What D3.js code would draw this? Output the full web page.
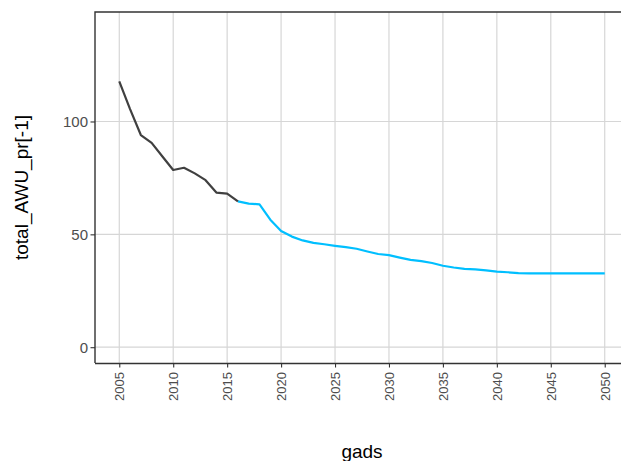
<!DOCTYPE html>
<html>
<head>
<meta charset="utf-8">
<script src="https://cdn.jsdelivr.net/npm/d3@7"></script>
<style>
  html, body { margin: 0; padding: 0; background: #fff; }
  svg { display: block; font-family: "Liberation Sans", Arial, sans-serif; }
</style>
</head>
<body>
<svg id="chart" width="621" height="461"></svg>
<script>
// Historical series (dark) and projected series (blue), yearly values
const histYears = [2005, 2006, 2007, 2008, 2009, 2010, 2011, 2012, 2013, 2014, 2015, 2016];
const histValues = [117.8, 105.5, 94, 90.5, 84.5, 78.5, 79.5, 77, 74, 68.5, 68, 64.6];

const projYears = [2016, 2017, 2018, 2019, 2020, 2021, 2022, 2023, 2024, 2025, 2026, 2027,
  2028, 2029, 2030, 2031, 2032, 2033, 2034, 2035, 2036, 2037, 2038, 2039, 2040, 2041, 2042,
  2043, 2044, 2045, 2046, 2047, 2048, 2049, 2050];
const projValues = [64.6, 63.6, 63.3, 56.5, 51.5, 49, 47.3, 46.2, 45.6, 44.9, 44.3, 43.6,
  42.4, 41.3, 40.8, 39.7, 38.7, 38.1, 37.3, 36.1, 35.3, 34.7, 34.5, 34.0, 33.5, 33.2, 32.8,
  32.7, 32.7, 32.7, 32.7, 32.7, 32.7, 32.7, 32.7];

const xTicks = [2005, 2010, 2015, 2020, 2025, 2030, 2035, 2040, 2045, 2050];
const yTicks = [0, 50, 100];

const xTitle = "gads";
const yTitle = "total_AWU_pr[-1]";

const svg = d3.select("#chart");
const panel = { left: 95, top: 12, right: 629, bottom: 363 };

const x = d3.scaleLinear().domain([2002.75, 2052.25]).range([panel.left, panel.right]);
const y = d3.scaleLinear().domain([-7, 148.5]).range([panel.bottom, panel.top]);

// grid
const grid = svg.append("g");
grid.selectAll("line.gx").data(xTicks).join("line")
  .attr("x1", d => x(d)).attr("x2", d => x(d))
  .attr("y1", panel.top).attr("y2", panel.bottom)
  .attr("stroke", "#d6d6d6").attr("stroke-width", 1.2);
grid.selectAll("line.gy").data(yTicks).join("line")
  .attr("x1", panel.left).attr("x2", panel.right)
  .attr("y1", d => y(d)).attr("y2", d => y(d))
  .attr("stroke", "#d6d6d6").attr("stroke-width", 1.2);

// series
const line = d3.line().x(d => x(d[0])).y(d => y(d[1]));
svg.append("path")
  .datum(projYears.map((yr, i) => [yr, projValues[i]]))
  .attr("d", line).attr("fill", "none")
  .attr("stroke", "#00BFFF").attr("stroke-width", 2.2)
  .attr("stroke-linejoin", "round");
svg.append("path")
  .datum(histYears.map((yr, i) => [yr, histValues[i]]))
  .attr("d", line).attr("fill", "none")
  .attr("stroke", "#404040").attr("stroke-width", 2.2)
  .attr("stroke-linejoin", "round");

// panel border (left and top)
svg.append("path")
  .attr("d", `M${panel.left},${panel.bottom}V${panel.top}H${panel.right}`)
  .attr("fill", "none").attr("stroke", "#333").attr("stroke-width", 1.4);

// axes
const xAxis = svg.append("g")
  .attr("transform", `translate(0,${panel.bottom})`)
  .call(d3.axisBottom(x).tickValues(xTicks).tickFormat(d3.format("d")).tickSize(4.5).tickSizeOuter(0).tickPadding(3));
xAxis.select(".domain").attr("stroke", "#333").attr("stroke-width", 1.4)
  .attr("d", `M${panel.left},0.5H${panel.right}`);
xAxis.selectAll(".tick line").attr("stroke", "#333").attr("stroke-width", 1.1);
xAxis.selectAll(".tick text")
  .attr("fill", "#4d4d4d").attr("font-size", 13)
  .attr("transform", "rotate(-90)")
  .attr("text-anchor", "end")
  .attr("x", -9).attr("y", 0).attr("dy", "0.36em");

const yAxis = svg.append("g")
  .attr("transform", `translate(${panel.left},0)`)
  .call(d3.axisLeft(y).tickValues(yTicks).tickSize(4.5).tickSizeOuter(0).tickPadding(2.5));
yAxis.select(".domain").remove();
yAxis.selectAll(".tick line").attr("stroke", "#333").attr("stroke-width", 1.1);
yAxis.selectAll(".tick text").attr("fill", "#4d4d4d").attr("font-size", 15);

// titles
svg.append("text")
  .attr("x", (panel.left + panel.right) / 2).attr("y", 458)
  .attr("text-anchor", "middle").attr("font-size", 19).attr("fill", "#000")
  .text(xTitle);
svg.append("text")
  .attr("transform", `translate(28,${(panel.top + panel.bottom) / 2}) rotate(-90)`)
  .attr("text-anchor", "middle").attr("font-size", 19).attr("fill", "#000")
  .text(yTitle);
</script>
</body>
</html>
